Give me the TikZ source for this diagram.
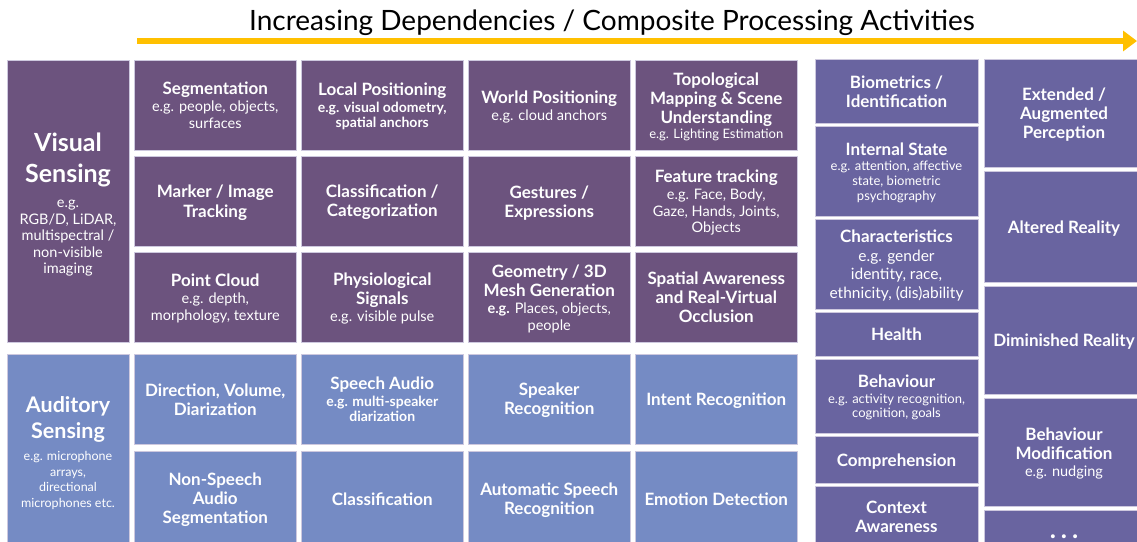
\documentclass[tikz,border=0pt]{standalone}
\usepackage{fontspec}
\setmainfont{Lato}
\usetikzlibrary{positioning, arrows.meta}
\definecolor{visualpurple}{RGB}{108,83,126}
\definecolor{audioblue}{RGB}{117,139,196}
\definecolor{outcomeviolet}{RGB}{105,100,160}
\definecolor{cellline}{RGB}{205,200,222}
\definecolor{arrowgold}{RGB}{255,192,0}
% one macro per kind of line: size, leading (split in height and depth)
\newcommand{\linestrut}[2]{\rule[-#2]{0pt}{\dimexpr#1+#2\relax}}
\newcommand{\hd}[1]{{\fontsize{17}{19}\selectfont\bfseries\linestrut{16pt}{3pt}#1}}
\newcommand{\eg}[1]{{\fontsize{14.5}{16.5}\selectfont\linestrut{14pt}{2.5pt}#1}}
\newcommand{\eglg}[1]{{\fontsize{15.5}{18.5}\selectfont\linestrut{15.7pt}{2.8pt}#1}}
\newcommand{\egsm}[1]{{\fontsize{13}{14.5}\selectfont\linestrut{12.3pt}{2.2pt}#1}}
\newcommand{\egbf}[1]{{\fontsize{14}{15.5}\selectfont\bfseries\linestrut{13.1pt}{2.4pt}#1}}
\newcommand{\sense}[1]{{\fontsize{25}{31}\selectfont\bfseries\linestrut{26pt}{5pt}#1}}
\newcommand{\senseaud}[1]{{\fontsize{21.5}{26}\selectfont\bfseries\linestrut{22pt}{4pt}#1}}
\newcommand{\egaud}[1]{{\fontsize{12.5}{15.5}\selectfont\linestrut{13pt}{2.5pt}#1}}
\tikzset{
  cell/.style={rectangle, draw=cellline, line width=0.8pt, text=white, align=center, inner sep=2pt, outer sep=0pt,
    font={\fontsize{10}{0}\selectfont\lineskip=0pt\lineskiplimit=0pt}}, % lines stack by their struts
  visualcell/.style={cell, fill=visualpurple, minimum width=162.5pt, minimum height=90pt},
  audiocell/.style={cell, fill=audioblue, minimum width=162.5pt, minimum height=90pt},
  outcome/.style={cell, fill=outcomeviolet, minimum width=163pt}, % right hand columns
}

\begin{document}
\begin{tikzpicture}[x=1pt, y=-1pt]
  \useasboundingbox (0,0) rectangle (1137,541);
  \clip (0,0) rectangle (1137,541);

  % heading and arrow
  \node[anchor=base, font=\fontsize{28}{30}\selectfont] (heading) at (612,30) {Increasing Dependencies / Composite Processing Activities};
  \coordinate (arrowtail) at (137,41);
  \coordinate (arrowtip) at (1137,41);
  \draw[line width=6pt, arrowgold, -{Triangle[length=14pt, width=20pt]}] (arrowtail) -- (arrowtip);

  % visual sensing
  \node[cell, fill=visualpurple, anchor=north west, minimum width=122pt, minimum height=282pt] (visual) at (7,60)
    {\sense{Visual}\\\sense{Sensing}\\[6pt]\eg{e.g.}\\\eg{RGB/D, LiDAR,}\\\eg{multispectral /}\\\eg{non-visible}\\\eg{imaging}};
  \node[visualcell, right=5pt of visual.north east, anchor=north west] (seg)
    {\hd{Segmentation}\\\eg{e.g. people, objects,}\\\eg{surfaces}};
  \node[visualcell, right=4.5pt of seg] (locpos)
    {\hd{Local Positioning}\\\egbf{e.g. visual odometry,}\\\egbf{spatial anchors}};
  \node[visualcell, right=4.5pt of locpos] (worldpos)
    {\hd{World Positioning}\\\eg{e.g. cloud anchors}};
  \node[visualcell, right=4.5pt of worldpos] (topo)
    {\hd{Topological}\\\hd{Mapping \& Scene}\\\hd{Understanding}\\\egsm{e.g. Lighting Estimation}};
  \node[visualcell, below=6pt of seg] (marker)
    {\hd{Marker / Image}\\\hd{Tracking}};
  \node[visualcell, right=4.5pt of marker] (classviz)
    {\hd{Classification /}\\\hd{Categorization}};
  \node[visualcell, right=4.5pt of classviz] (gestures)
    {\hd{Gestures /}\\\hd{Expressions}};
  \node[visualcell, right=4.5pt of gestures] (feature)
    {\hd{Feature tracking}\\\eg{e.g. Face, Body,}\\\eg{Gaze, Hands, Joints,}\\\eg{Objects}};
  \node[visualcell, below=6pt of marker] (pointcloud)
    {\hd{Point Cloud}\\\eg{e.g. depth,}\\\eg{morphology, texture}};
  \node[visualcell, right=4.5pt of pointcloud] (physio)
    {\hd{Physiological}\\\hd{Signals}\\\eg{e.g. visible pulse}};
  \node[visualcell, right=4.5pt of physio] (geometry)
    {\hd{Geometry / 3D}\\\hd{Mesh Generation}\\\eg{\textbf{e.g.} Places, objects,}\\\eg{people}};
  \node[visualcell, right=4.5pt of geometry] (spatial)
    {\hd{Spatial Awareness}\\\hd{and Real-Virtual}\\\hd{Occlusion}};

  % auditory sensing
  \node[cell, fill=audioblue, anchor=north west, minimum width=122pt, minimum height=192pt] (auditory) at (7,354)
    {\senseaud{Auditory}\\\senseaud{Sensing}\\[5pt]\egaud{e.g. microphone}\\\egaud{arrays,}\\\egaud{directional}\\\egaud{microphones etc.}};
  \node[audiocell, right=5pt of auditory.north east, anchor=north west] (direction)
    {\hd{Direction, Volume,}\\\hd{Diarization}};
  \node[audiocell, right=4.5pt of direction] (speechaudio)
    {\hd{Speech Audio}\\\egbf{e.g. multi-speaker}\\\egbf{diarization}};
  \node[audiocell, right=4.5pt of speechaudio] (speaker)
    {\hd{Speaker}\\\hd{Recognition}};
  \node[audiocell, right=4.5pt of speaker] (intent)
    {\hd{Intent Recognition}};
  \node[audiocell, below=7pt of direction, minimum height=95pt] (nonspeech)
    {\hd{Non-Speech}\\\hd{Audio}\\\hd{Segmentation}};
  \node[audiocell, right=4.5pt of nonspeech, minimum height=95pt] (classaudio)
    {\hd{Classification}};
  \node[audiocell, right=4.5pt of classaudio, minimum height=95pt] (asr)
    {\hd{Automatic Speech}\\\hd{Recognition}};
  \node[audiocell, right=4.5pt of asr, minimum height=95pt] (emotion)
    {\hd{Emotion Detection}};

  % inferences about the user
  \node[outcome, anchor=north west, minimum height=64pt] (biometrics) at (815,59)
    {\hd{Biometrics /}\\\hd{Identification}};
  \node[outcome, below=3pt of biometrics, minimum height=90pt] (internal)
    {\hd{Internal State}\\\egsm{e.g. attention, affective}\\\egsm{state, biometric}\\\egsm{psychography}};
  \node[outcome, below=3pt of internal, minimum height=90pt] (characteristics)
    {\hd{Characteristics}\\\eglg{e.g. gender}\\\eglg{identity, race,}\\\eglg{ethnicity, (dis)ability}};
  \node[outcome, below=3pt of characteristics, minimum height=44pt] (health)
    {\hd{Health}};
  \node[outcome, below=3pt of health, minimum height=74pt] (behaviour)
    {\hd{Behaviour}\\\egsm{e.g. activity recognition,}\\\egsm{cognition, goals}};
  \node[outcome, below=3pt of behaviour, minimum height=47pt] (comprehension)
    {\hd{Comprehension}};
  \node[outcome, below=3pt of comprehension, minimum height=60pt] (context)
    {\hd{Context}\\\hd{Awareness}};

  % resulting experiences
  \node[outcome, anchor=north west, minimum width=160pt, minimum height=108pt] (extended) at (984,59)
    {\hd{Extended /}\\\hd{Augmented}\\\hd{Perception}};
  \node[outcome, below=4pt of extended, minimum width=160pt, minimum height=111pt] (altered)
    {\hd{Altered Reality}};
  \node[outcome, below=4pt of altered, minimum width=160pt, minimum height=108pt] (diminished)
    {\hd{Diminished Reality}};
  \node[outcome, below=4pt of diminished, minimum width=160pt, minimum height=108pt] (modification)
    {\hd{Behaviour}\\\hd{Modification}\\\eg{e.g. nudging}};
  \node[outcome, below=4pt of modification, minimum width=160pt, minimum height=54pt] (more)
    {\fontsize{26}{28}\selectfont\bfseries .\hspace{5pt}.\hspace{5pt}.};
\end{tikzpicture}
\end{document}
